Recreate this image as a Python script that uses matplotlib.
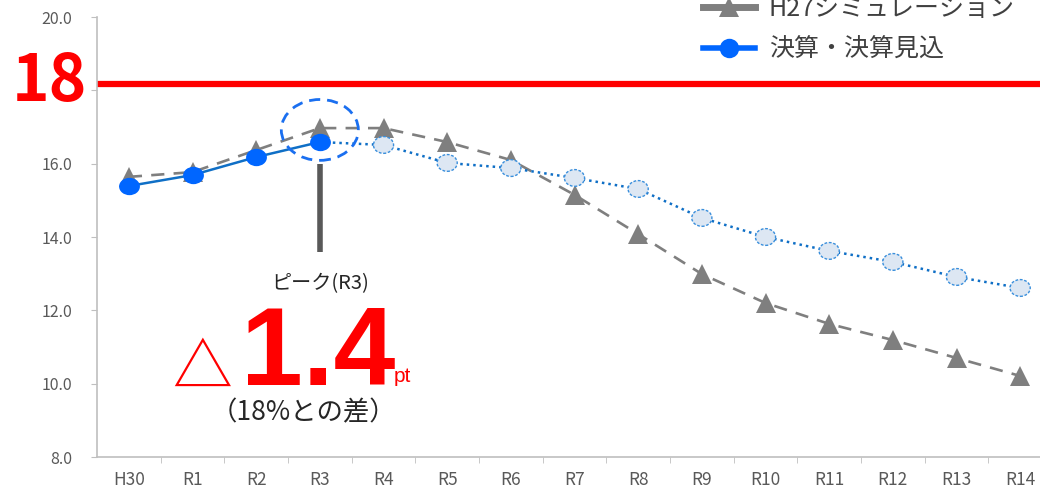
import matplotlib
matplotlib.use('Agg')
import matplotlib.pyplot as plt
from matplotlib.lines import Line2D
from matplotlib.patches import Ellipse
from matplotlib.path import Path
from matplotlib.transforms import Affine2D

plt.rcParams['font.family'] = ['Noto Sans CJK JP', 'DejaVu Sans']

years = ['H30', 'R1', 'R2', 'R3', 'R4', 'R5', 'R6', 'R7',
         'R8', 'R9', 'R10', 'R11', 'R12', 'R13', 'R14']
sim_h27 = [15.64, 15.77, 16.37, 16.97, 16.97, 16.59, 16.10, 15.15,
           14.08, 12.99, 12.20, 11.63, 11.19, 10.70, 10.21]
actual = [15.39, 15.69, 16.18, 16.59]
projected = [16.59, 16.51, 16.02, 15.88, 15.61, 15.31, 14.52, 14.00,
             13.62, 13.32, 12.91, 12.61]
target = 18.16
peak_idx = 3
peak_gap = '1.4'

xs = list(range(len(years)))
x_act = xs[:len(actual)]
x_proj = xs[peak_idx:peak_idx + len(projected)]

gray = '#7f7f7f'
blue_line = '#0f6fc6'
blue_mark = '#0066ff'
txt = '#595959'

# slightly wide ellipse marker like the original
circ = Path.unit_circle()
ell = Affine2D().scale(1.2, 1.0).transform_path(circ)

fig = plt.figure(figsize=(10.4, 4.96), dpi=100)
ax = fig.add_axes([97 / 1040, 39 / 496, 955 / 1040, 440 / 496])

ax.axhline(target, color='#ff0000', lw=4.5, zorder=1)

ax.plot(xs, sim_h27, color=gray, lw=1.9, ls=(0, (5, 3.5)), marker='^',
        markersize=14, markerfacecolor=gray, markeredgewidth=0, zorder=3)
ax.plot(x_proj, projected, color=blue_line, lw=1.8, ls=(0, (1, 1.6)), zorder=4)
ax.scatter(x_proj[1:], projected[1:], s=210, marker=ell, facecolor='#dde7f3',
           edgecolor='#3a8fdc', linewidths=1.0, linestyles=(0, (2, 1.2)), zorder=5)
ax.plot(x_act, actual, color=blue_line, lw=1.8, marker=ell, markersize=15,
        markerfacecolor=blue_mark, markeredgewidth=0, zorder=6)

# peak highlight
ax.add_patch(Ellipse((peak_idx, 16.92), 1.21, 1.66, fill=False, ec='#1a6ff0',
                     lw=2, ls=(0, (4, 2.5)), zorder=7))
ax.plot([peak_idx, peak_idx], [16.0, 13.6], color='#595959', lw=4,
        solid_capstyle='butt', zorder=7)

ax.text(peak_idx, 12.74, 'ピーク(R3)', ha='center', va='center', fontsize=14.5,
        color='#262626')
ax.text(1.15, 10.35, '△', ha='center', va='center', fontsize=43, color='#ff0000')
ax.text(peak_idx - 0.02, 9.96, peak_gap, ha='center', va='baseline', fontsize=80,
        color='#ff0000', fontweight='bold',
        family=['Liberation Sans', 'DejaVu Sans'])
ax.text(4.3, 10.2, 'pt', ha='center', va='center', fontsize=15,
        color='#ff0000', family=['Liberation Sans', 'DejaVu Sans'])
ax.text(2.75, 9.2, '（18%との差）', ha='center', va='center', fontsize=19,
        color='#262626')

fig.text(49 / 1040, 1 - 82 / 496, '18', ha='center', va='center', fontsize=46,
         fontweight='bold', color='#ff0000')

ax.set_xlim(-0.5, len(years) - 0.5)
ax.set_ylim(8, 20)
ax.set_yticks([8, 10, 12, 14, 16, 18, 20])
ax.set_yticklabels(['8.0', '10.0', '12.0', '14.0', '16.0', '', '20.0'])
ax.set_xticks(xs)
ax.set_xticklabels(years)
ax.set_xticks([i + 0.5 for i in xs[:-1]], minor=True)
ax.tick_params(axis='x', which='major', length=0, pad=10, labelsize=12.5,
               labelcolor=txt)
ax.tick_params(axis='x', which='minor', length=4, color='#bfbfbf')
ax.tick_params(axis='y', length=4, color='#bfbfbf', labelsize=11.5,
               labelcolor=txt, pad=14)
for s in ['top', 'right']:
    ax.spines[s].set_visible(False)
for s in ['left', 'bottom']:
    ax.spines[s].set_color('#bfbfbf')
    ax.spines[s].set_linewidth(1.2)

handles = [
    Line2D([], [], color=gray, lw=5, marker='^', markersize=14,
           markerfacecolor=gray, markeredgewidth=0),
    Line2D([], [], color=blue_mark, lw=4, marker='o', markersize=14,
           markerfacecolor=blue_mark, markeredgewidth=0),
]
leg = fig.legend(handles, ['H27シミュレーション', '決算・決算見込'],
                 loc='upper left', bbox_to_anchor=(680 / 1040, 1 + 27 / 496),
                 frameon=False, fontsize=18, handlelength=2.1,
                 handletextpad=0.55, labelspacing=0.62, labelcolor='#404040')

fig.savefig('out.png', dpi=100)
